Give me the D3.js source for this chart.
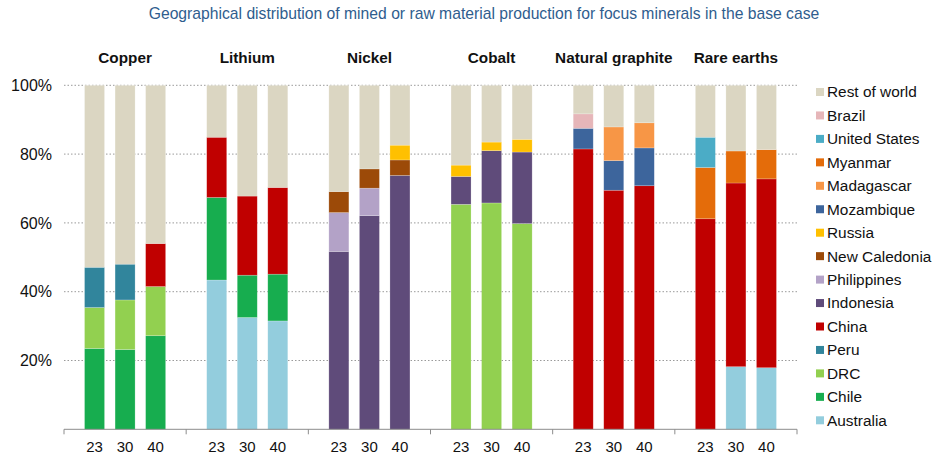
<!DOCTYPE html>
<html>
<head>
<meta charset="utf-8">
<script src="https://cdn.jsdelivr.net/npm/d3@7"></script>
<style>
  html, body { margin: 0; padding: 0; background: #fff; }
  svg { display: block; font-family: "Liberation Sans", Arial, sans-serif; }
</style>
</head>
<body>
<svg id="chart" width="934" height="461"></svg>
<script>
// Minerals, scenario years and producer countries (stack order bottom → top)
const minerals = ["Copper", "Lithium", "Nickel", "Cobalt", "Natural graphite", "Rare earths"];
const years = ["23", "30", "40"];
const yTicks = [20, 40, 60, 80, 100];

// Share of production (%) per country, 18 values each:
// Copper 23/30/40, Lithium 23/30/40, Nickel ..., Cobalt ..., Natural graphite ..., Rare earths ...
const australia    = [0, 0, 0,        43.4, 32.5, 31.5,  0, 0, 0,           0, 0, 0,           0, 0, 0,          0, 18.2, 17.9];
const chile        = [23.5, 23.2, 27.2, 24.0, 12.3, 13.6, 0, 0, 0,           0, 0, 0,           0, 0, 0,          0, 0, 0];
const drc          = [11.9, 14.4, 14.3, 0, 0, 0,          0, 0, 0,           65.4, 65.8, 59.8,  0, 0, 0,          0, 0, 0];
const peru         = [11.7, 10.4, 0,    0, 0, 0,          0, 0, 0,           0, 0, 0,           0, 0, 0,          0, 0, 0];
const china        = [0, 0, 12.5,       17.5, 23.0, 25.2, 0, 0, 0,           0, 0, 0,           81.5, 69.5, 70.8, 61.2, 53.4, 54.9];
const indonesia    = [0, 0, 0,          0, 0, 0,          51.7, 62.1, 73.8,  8.1, 15.2, 20.8,   0, 0, 0,          0, 0, 0];
const philippines  = [0, 0, 0,          0, 0, 0,          11.3, 8.0, 0,      0, 0, 0,           0, 0, 0,          0, 0, 0];
const newCaledonia = [0, 0, 0,          0, 0, 0,          6.1, 5.6, 4.5,     0, 0, 0,           0, 0, 0,          0, 0, 0];
const russia       = [0, 0, 0,          0, 0, 0,          0, 0, 4.3,         3.3, 2.5, 3.7,     0, 0, 0,          0, 0, 0];
const mozambique   = [0, 0, 0,          0, 0, 0,          0, 0, 0,           0, 0, 0,           6.0, 8.6, 11.0,   0, 0, 0];
const madagascar   = [0, 0, 0,          0, 0, 0,          0, 0, 0,           0, 0, 0,           0, 9.8, 7.3,      0, 0, 0];
const myanmar      = [0, 0, 0,          0, 0, 0,          0, 0, 0,           0, 0, 0,           0, 0, 0,          14.9, 9.3, 8.5];
const unitedStates = [0, 0, 0,          0, 0, 0,          0, 0, 0,           0, 0, 0,           0, 0, 0,          8.8, 0, 0];
const brazil       = [0, 0, 0,          0, 0, 0,          0, 0, 0,           0, 0, 0,           4.2, 0, 0,        0, 0, 0];
const restOfWorld  = [52.9, 52.0, 46.0, 15.1, 32.2, 29.7, 30.9, 24.3, 17.4,  23.2, 16.5, 15.7,  8.3, 12.1, 10.9,  15.1, 19.1, 18.7];

const countries = ["Australia", "Chile", "DRC", "Peru", "China", "Indonesia", "Philippines",
  "New Caledonia", "Russia", "Mozambique", "Madagascar", "Myanmar", "United States", "Brazil", "Rest of world"];
const seriesValues = [australia, chile, drc, peru, china, indonesia, philippines,
  newCaledonia, russia, mozambique, madagascar, myanmar, unitedStates, brazil, restOfWorld];
const colors = ["#93cddd", "#17ad4f", "#92d050", "#31859c", "#c00000", "#5f4b7a", "#b3a2c7",
  "#9c4a08", "#ffc000", "#3d659c", "#f79646", "#e46c0a", "#4bacc6", "#e6b6b9", "#dbd6c2"];

// Build a flat table: one row per mineral/year
const rows = [];
minerals.forEach((m, mi) => years.forEach((yr, yi) => {
  const row = { mineral: m, year: yr };
  countries.forEach((c, ci) => { row[c] = seriesValues[ci][mi * 3 + yi]; });
  rows.push(row);
}));

const svg = d3.select("#chart");
const plotLeft = 64, plotRight = 797, plotTop = 85.3, plotBottom = 429.3;

const x0 = d3.scaleBand().domain(minerals).range([plotLeft, plotRight]).padding(0);
const x1 = d3.scaleBand().domain(years).range([0, x0.bandwidth()])
  .paddingInner(0.345).paddingOuter(0.6725);
const y = d3.scaleLinear().domain([0, 100]).range([plotBottom, plotTop]);
const color = d3.scaleOrdinal().domain(countries).range(colors);

// Title
svg.append("text")
  .attr("x", 484).attr("y", 19)
  .attr("text-anchor", "middle")
  .attr("fill", "#2f5d8e")
  .style("font-size", "15.7px")
  .text("Geographical distribution of mined or raw material production for focus minerals in the base case");

// Mineral headers
svg.append("g").selectAll("text")
  .data(minerals).join("text")
  .attr("x", d => x0(d) + x0.bandwidth() / 2)
  .attr("y", 63)
  .attr("text-anchor", "middle")
  .attr("fill", "#111")
  .style("font-size", "15.3px")
  .style("font-weight", "bold")
  .text(d => d);

// Dotted gridlines
svg.append("g").selectAll("line")
  .data(yTicks).join("line")
  .attr("x1", plotLeft).attr("x2", plotRight)
  .attr("y1", d => y(d)).attr("y2", d => y(d))
  .attr("stroke", "#9a9a9a")
  .attr("stroke-width", 1)
  .attr("stroke-dasharray", "1.5,2");

// Y tick labels
const yAxis = d3.axisLeft(y).tickValues(yTicks).tickFormat(d => d + "%").tickSize(0).tickPadding(12);
const gy = svg.append("g").attr("transform", `translate(${plotLeft},0)`).call(yAxis);
gy.select(".domain").remove();
gy.selectAll("text").style("font-size", "16px").attr("fill", "#111")
  .style("font-family", "'Liberation Sans', Arial, sans-serif");

// Stacked bars
const stack = d3.stack().keys(countries);
const stacked = stack(rows);
svg.append("g").selectAll("g")
  .data(stacked).join("g")
  .attr("fill", d => color(d.key))
  .selectAll("rect")
  .data(d => d.filter(p => p[1] - p[0] > 0))
  .join("rect")
  .attr("x", d => x0(d.data.mineral) + x1(d.data.year))
  .attr("width", x1.bandwidth())
  .attr("y", d => y(d[1]))
  .attr("height", d => y(d[0]) - y(d[1]))
  .attr("stroke", "rgba(255,255,255,0.35)")
  .attr("stroke-width", 0.6);

// Bottom axis with group separator ticks
const axisG = svg.append("g");
axisG.append("line")
  .attr("x1", plotLeft).attr("x2", plotRight)
  .attr("y1", plotBottom).attr("y2", plotBottom)
  .attr("stroke", "#8c8c8c").attr("stroke-width", 1);
const sepX = minerals.map(m => x0(m)).concat([plotRight]);
axisG.selectAll("line.sep").data(sepX).join("line")
  .attr("class", "sep")
  .attr("x1", d => d).attr("x2", d => d)
  .attr("y1", plotBottom).attr("y2", plotBottom + 5)
  .attr("stroke", "#8c8c8c").attr("stroke-width", 1);

// Year labels
axisG.selectAll("text")
  .data(rows).join("text")
  .attr("x", d => x0(d.mineral) + x1(d.year) + x1.bandwidth() / 2)
  .attr("y", 452)
  .attr("text-anchor", "middle")
  .attr("fill", "#111")
  .style("font-size", "15px")
  .text(d => d.year);

// Legend (top entry = top of stack)
const legendItems = countries.slice().reverse();
const lg = svg.append("g").selectAll("g")
  .data(legendItems).join("g")
  .attr("transform", (d, i) => `translate(816,${92 + i * 23.45})`);
lg.append("rect")
  .attr("x", 0).attr("y", -4).attr("width", 8).attr("height", 8)
  .attr("fill", d => color(d));
lg.append("text")
  .attr("x", 11).attr("y", 0).attr("dy", "0.35em")
  .attr("fill", "#111")
  .style("font-size", "15.4px")
  .text(d => d);
</script>
</body>
</html>
